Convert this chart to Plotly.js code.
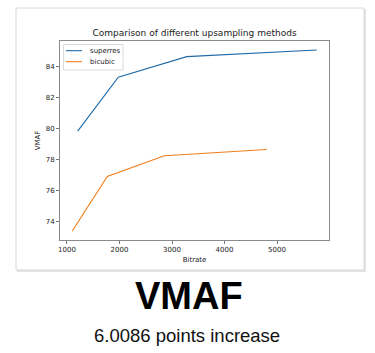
<!DOCTYPE html>
<html>
<head>
<meta charset="utf-8">
<script src="https://cdn.plot.ly/plotly-3.0.1.min.js"></script>
<style>
html,body{margin:0;padding:0;background:#fff;}
#chart{width:375px;height:353px;}
</style>
</head>
<body>
<div id="chart"></div>
<script>
const seriesNames = ["superres", "bicubic"];
const superresBitrate = [1204, 1977, 3280, 5756];
const superresVmaf = [79.85, 83.33, 84.66, 85.09];
const bicubicBitrate = [1100, 1768, 2853, 4804];
const bicubicVmaf = [73.40, 76.92, 78.26, 78.66];
const xTicks = [1000, 2000, 3000, 4000, 5000];
const yTicks = [74, 76, 78, 80, 82, 84];
const colors = ["#1f6aa8", "#f07d1a"];
const chartTitle = "Comparison of different upsampling methods";
const bigLabel = "VMAF";
const subLabel = "6.0086 points increase";

const W = 375, H = 353;
const L = 60, R = 329, T = 41, B = 240;
const px = v => (v - L) / (R - L);
const py = v => (B - v) / (B - T);

const traces = [
  {x: superresBitrate, y: superresVmaf, name: seriesNames[0], mode: "lines",
   line: {color: colors[0], width: 1.1}, showlegend: false},
  {x: bicubicBitrate, y: bicubicVmaf, name: seriesNames[1], mode: "lines",
   line: {color: colors[1], width: 1.1}, showlegend: false}
];

const tickFont = {family: "DejaVu Sans", size: 7, color: "#222"};

const shapes = [
  {type: "rect", xref: "paper", yref: "paper", x0: px(17), x1: px(366), y0: py(272), y1: py(9),
   fillcolor: "#e4e4e4", line: {width: 0}, layer: "below"},
  {type: "rect", xref: "paper", yref: "paper", x0: px(16), x1: px(364), y0: py(270), y1: py(8),
   fillcolor: "#ffffff", line: {color: "#d8d8d8", width: 1}, layer: "below"},
  {type: "rect", xref: "paper", yref: "paper", x0: px(63.5), x1: px(123), y0: py(70), y1: py(44.5),
   fillcolor: "rgba(255,255,255,0.8)", line: {color: "#d0d0d0", width: 0.8}, layer: "above"},
  {type: "line", xref: "paper", yref: "paper", x0: px(66), x1: px(82), y0: py(50.7), y1: py(50.7),
   line: {color: colors[0], width: 1.1}},
  {type: "line", xref: "paper", yref: "paper", x0: px(66), x1: px(82), y0: py(61.7), y1: py(61.7),
   line: {color: colors[1], width: 1.1}}
];

const annotations = [
  {xref: "paper", yref: "paper", x: px(88), y: py(50.7), xanchor: "left", yanchor: "middle",
   text: seriesNames[0], showarrow: false, font: {family: "DejaVu Sans", size: 7, color: "#222"}},
  {xref: "paper", yref: "paper", x: px(88), y: py(61.7), xanchor: "left", yanchor: "middle",
   text: seriesNames[1], showarrow: false, font: {family: "DejaVu Sans", size: 7, color: "#222"}},
  {xref: "paper", yref: "paper", x: px(189), y: py(296), xanchor: "center", yanchor: "middle",
   text: "<b>" + bigLabel + "</b>", showarrow: false,
   font: {family: "Liberation Sans", size: 38, color: "#000"}},
  {xref: "paper", yref: "paper", x: px(187), y: py(335.5), xanchor: "center", yanchor: "middle",
   text: subLabel, showarrow: false,
   font: {family: "Liberation Sans", size: 18.5, color: "#111"}}
];

const layout = {
  width: W, height: H,
  margin: {l: L, r: W - R, t: T, b: H - B, pad: 0},
  paper_bgcolor: "#ffffff",
  plot_bgcolor: "rgba(0,0,0,0)",
  showlegend: false,
  title: {text: chartTitle, x: px(194.5), xref: "paper", xanchor: "center",
          y: 1 - 33 / H, yref: "container", yanchor: "middle",
          font: {family: "DejaVu Sans", size: 9, color: "#222"}},
  xaxis: {range: [867, 5990], tickvals: xTicks, ticktext: xTicks.map(String),
          showgrid: false, zeroline: false, showline: true, mirror: true,
          linecolor: "#8a8a8a", linewidth: 1, ticks: "outside", ticklen: 3,
          tickcolor: "#555", tickwidth: 0.8, tickfont: tickFont,
          title: {text: "Bitrate", font: {family: "DejaVu Sans", size: 7, color: "#222"}, standoff: 3}},
  yaxis: {range: [72.82, 85.67], tickvals: yTicks, ticktext: yTicks.map(String),
          showgrid: false, zeroline: false, showline: true, mirror: true,
          linecolor: "#8a8a8a", linewidth: 1, ticks: "outside", ticklen: 3,
          tickcolor: "#555", tickwidth: 0.8, tickfont: tickFont,
          title: {text: "VMAF", font: {family: "DejaVu Sans", size: 7, color: "#222"}, standoff: 4}},
  shapes: shapes,
  annotations: annotations
};

Plotly.newPlot("chart", traces, layout, {staticPlot: true, displayModeBar: false});
</script>
</body>
</html>
